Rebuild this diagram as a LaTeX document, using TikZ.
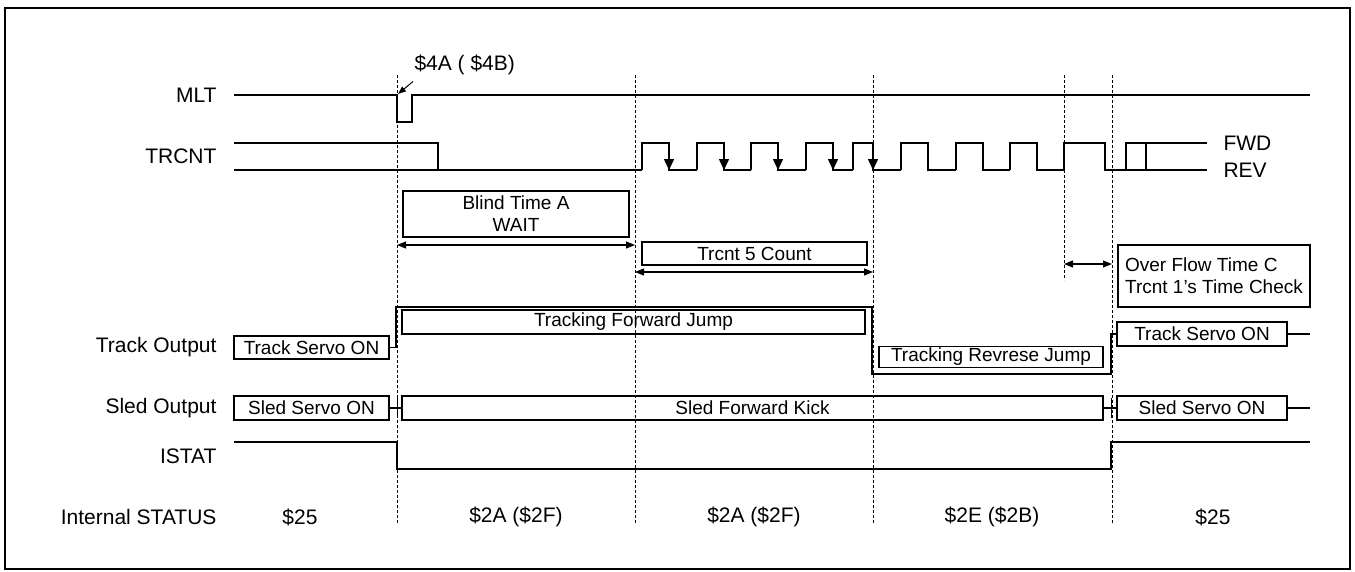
\documentclass[tikz,border=0pt]{standalone}
\usepackage{fontspec}
\setmainfont{Liberation Sans}
\usepackage{tikz}
\usetikzlibrary{arrows.meta}
\newcommand{\labelfont}{\fontsize{21}{23}\selectfont}
\newcommand{\boxfont}{\fontsize{19}{22}\selectfont}
\newcommand{\hiY}{143}
\newcommand{\loY}{170}
\tikzset{
    sig/.style={line width=1.5pt, line join=miter},
    timebox/.style={draw, line width=1.3pt, inner sep=0pt, font=\boxfont},
    rowlabel/.style={anchor=east, font=\labelfont},
    status/.style={font=\labelfont},
    guide/.style={dash pattern=on 3pt off 2pt, line width=0.8pt},
    span/.style={{Triangle[length=9pt,width=7pt]}-{Triangle[length=9pt,width=7pt]}, line width=1.1pt},
    count/.style={-{Triangle[length=11pt,width=10pt]}, line width=1.5pt},
    note/.style={-{Triangle[length=8pt,width=6pt]}, line width=1pt}
}

\begin{document}
\begin{tikzpicture}[x=1pt, y=-1pt]
    \useasboundingbox (0,0) rectangle (1355,571);
    \draw[line width=2.5pt] (5,8) rectangle (1350,569);

    % row labels
    \node[rowlabel] (mlt) at (220,95) {MLT};
    \node[rowlabel] (trcnt) at (220,156) {TRCNT};
    \node[rowlabel] (track) at (220,347) {Track Output};
    \node[rowlabel] (sled) at (220,408) {Sled Output};
    \node[rowlabel] (istat) at (220,456) {ISTAT};
    \node[rowlabel] (intstat) at (220,517) {Internal STATUS};

    % guide lines
    \foreach \x in {397, 635, 873, 1112}
        \draw[guide] (\x,75) -- (\x,523);
    \draw[guide] (1064,75) -- (1064,280);

    % MLT
    \draw[sig] (234,95) -- (397,95) -- (397,122) -- (412,122) -- (412,95) -- (1310,95);
    \node[anchor=west, font=\labelfont] (mltnote) at (411,65) {\$4A ( \$4B)};
    \coordinate (mltfall) at (398,94);
    \draw[note] ([xshift=2pt, yshift=-3pt]mltnote.south west) -- (mltfall);

    % TRCNT
    \draw[sig] (234,\hiY) -- (438,\hiY) -- (438,\loY);
    \draw[sig] (234,\loY) -- (642,\loY);
    \foreach \r/\f/\n in {642/669/697, 697/724/751, 751/778/806, 806/833/853, 853/873/901,
                          901/928/956, 956/983/1010, 1010/1037/1064, 1064/1105/1207}
        \draw[sig] (\r,\loY) -- (\r,\hiY) -- (\f,\hiY) -- (\f,\loY) -- (\n,\loY);
    \foreach \f in {669, 724, 778, 833, 873}
        \draw[count] (\f,150) -- (\f,\loY);
    \draw[sig] (1126,\loY) -- (1126,\hiY) -- (1207,\hiY);
    \draw[sig] (1146,\hiY) -- (1146,\loY);
    \node[anchor=west, font=\labelfont] (fwd) at (1220,\hiY) {FWD};
    \node[anchor=west, font=\labelfont] (rev) at (1220,\loY) {REV};

    % timing notes
    \node[timebox, minimum width=226, minimum height=46, align=center] (blind) at (516,214) {Blind Time A\\WAIT};
    \coordinate (blindL) at (397,245);
    \coordinate (blindR) at (635,245);
    \draw[span] (blindL) -- (blindR);

    \node[timebox, minimum width=225, minimum height=23] (count5) at (754.5,253.5) {Trcnt 5 Count};
    \coordinate (countL) at (635,272);
    \coordinate (countR) at (873,272);
    \draw[span] (countL) -- (countR);

    \node[timebox, minimum width=192, minimum height=62, align=left] (overflow) at (1214,276) {Over Flow Time C\\Trcnt 1's Time Check};
    \coordinate (overL) at (1064,264);
    \coordinate (overR) at (1112,264);
    \draw[span] (overL) -- (overR);

    % Track Output
    \node[timebox, minimum width=155, minimum height=23] (trackon) at (311.5,347.5) {Track Servo ON};
    \node[timebox, minimum width=463, minimum height=24] (fwdjump) at (633.5,322) {Tracking Forward Jump};
    \node[timebox, minimum width=224, minimum height=21] (revjump) at (991,357) {Tracking Revrese Jump};
    \node[timebox, minimum width=170, minimum height=24] (trackback) at (1202,334) {Track Servo ON};
    \draw[sig] (trackon.east) -- (396,347.5) -- (396,307) -- (872,307) -- (872,374)
        -- (1111,374) -- (1111,334) -- (trackback.west);
    \draw[sig] (trackback.east) -- (1310,334);

    % Sled Output
    \node[timebox, minimum width=155, minimum height=24] (sledon) at (311.5,408) {Sled Servo ON};
    \node[timebox, minimum width=701, minimum height=24] (kick) at (752.5,408) {Sled Forward Kick};
    \node[timebox, minimum width=170, minimum height=24] (sledback) at (1202,408) {Sled Servo ON};
    \draw[sig] (sledon) -- (kick);
    \draw[sig] (kick) -- (sledback);
    \draw[sig] (sledback.east) -- (1310,408);
    \draw[line width=1pt] (397,398) -- (397,418) (1111,398) -- (1111,418);

    % ISTAT
    \draw[sig] (234,442) -- (397,442) -- (397,469) -- (1111,469) -- (1111,442) -- (1310,442);

    % Internal STATUS
    \node[status] (st1) at (300,517) {\$25};
    \node[status] (st2) at (516,517) {\$2A (\$2F)};
    \node[status] (st3) at (754,517) {\$2A (\$2F)};
    \node[status] (st4) at (992,517) {\$2E (\$2B)};
    \node[status] (st5) at (1213,517) {\$25};
\end{tikzpicture}
\end{document}
